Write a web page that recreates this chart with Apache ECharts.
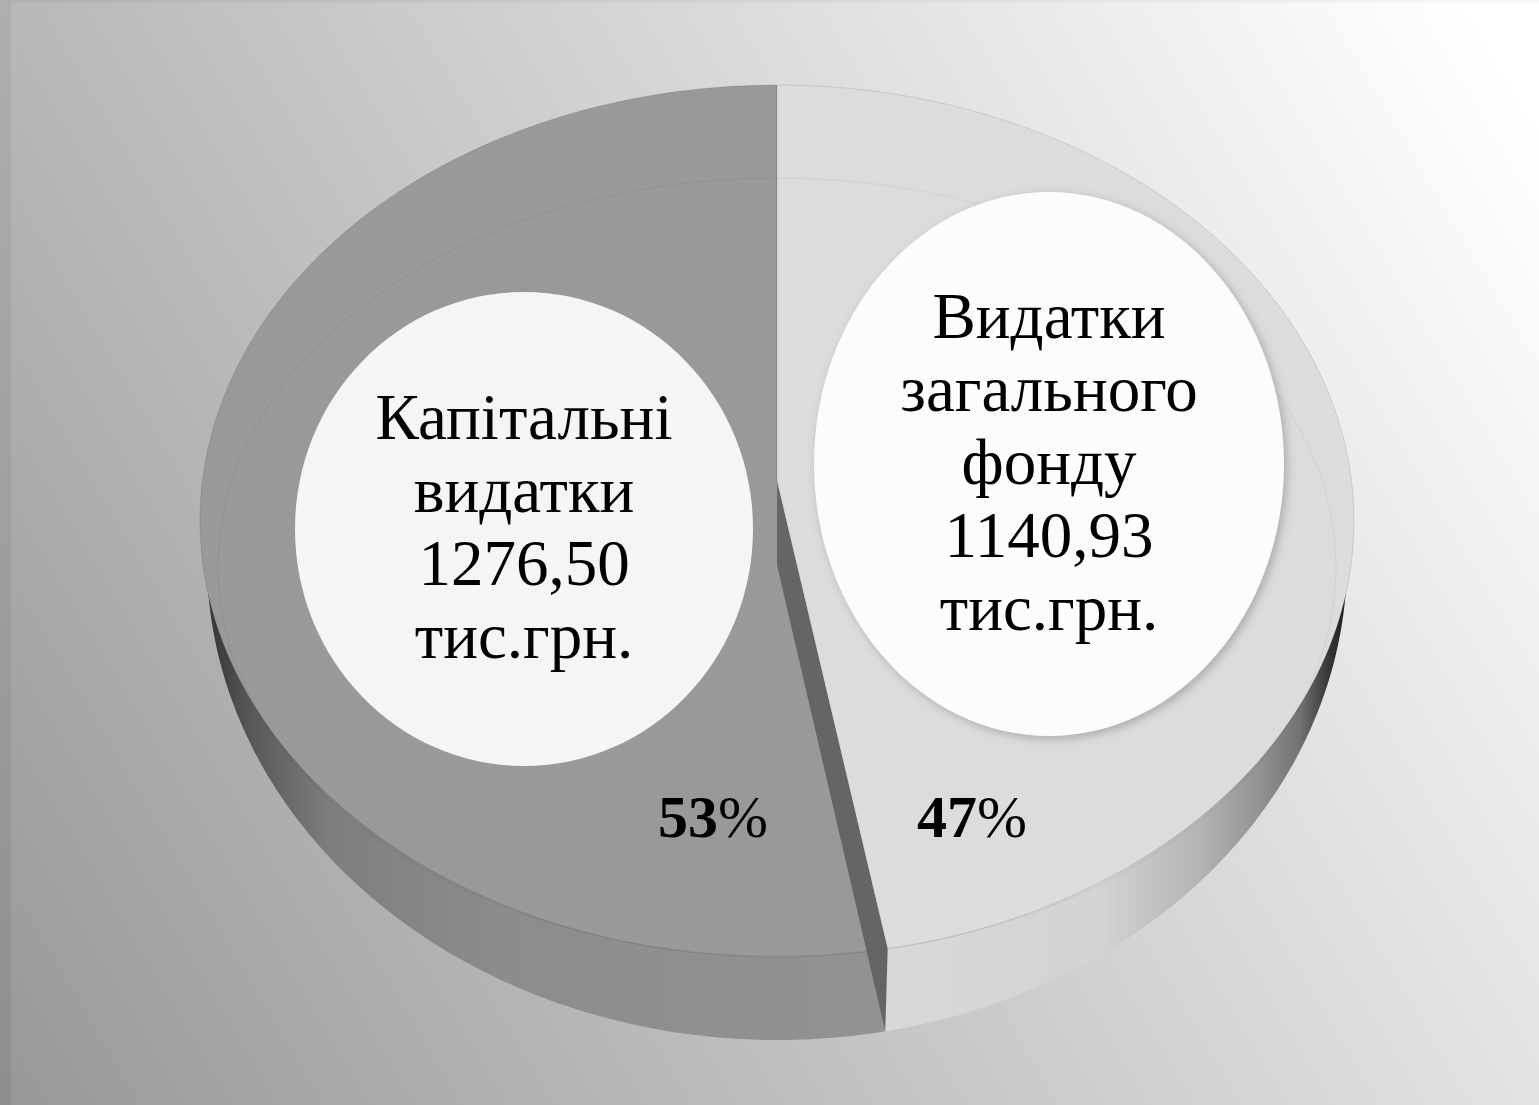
<!DOCTYPE html>
<html>
<head>
<meta charset="utf-8">
<style>
html, body {margin: 0; padding: 0; background: #999;}
#main {width: 1539px; height: 1105px;}
</style>
<script src="https://cdn.jsdelivr.net/npm/echarts@6/dist/echarts.min.js"></script>
</head>
<body>
<div id="main"></div>
<script>
// дані діаграми, за годинниковою стрілкою від верхньої точки
let categories = ['Видатки\nзагального\nфонду', 'Капітальні\nвидатки'];
let values = [1140.93, 1276.50];
let unit = 'тис.грн.';

let total = values.reduce((a, b) => a + b, 0);
let fontName = '"Liberation Serif", serif';

// верхня грань і стінка - кола в перспективі
let topFace = {cx: 777, cy: 521, rx: 577, ry: 436, shift: -40};
let wallFace = {cx: 777, cy: 560, rx: 570, ry: 480, shift: -39};
let apexBottom = {x: 777, y: 565};

// положення підписів для кожного сектора
let bubbles = [
    {cx: 1049, cy: 464, rx: 235, ry: 272, fill: '#fcfcfc', textY: 467, pctX: 972, shadow: 'rgba(0,0,0,0.22)'},
    {cx: 524, cy: 529, rx: 229, ry: 237, fill: '#f5f5f5', textY: 531, pctX: 713, shadow: 'rgba(0,0,0,0)'}
];

let startAngle = (i) => values.slice(0, i).reduce((a, b) => a + b, 0) / total * 360;

let project = (f, deg) => {  // кут на колі -> точка на еліпсі
    let t = deg * Math.PI / 180;
    let u = Math.sin(t), v = -Math.cos(t);
    let k = f.shift / f.ry;
    let w = 1 + k * v;
    return [f.cx + f.rx * Math.sqrt(1 - k * k) * u / w, f.cy + (f.ry * v + f.shift) / w];
};

let arcPoints = (f, from, to) => {
    let pts = [];
    let n = Math.max(2, Math.ceil(Math.abs(to - from)));
    for (let i = 0; i <= n; i++) {
        pts.push(project(f, from + (to - from) * i / n));
    }
    return pts;
};

let hGradient = (x, x2, stops) => ({
    type: 'linear', x: x, y: 0, x2: x2, y2: 0, global: true,
    colorStops: stops.map(s => ({offset: (s[0] - x) / (x2 - x), color: s[1]}))
});

let bgGradient = (from, to) => ({
    type: 'linear', x: 12, y: 1105, x2: 1570, y2: 182, global: true,
    colorStops: [{offset: 0, color: from}, {offset: 1, color: to}]
});

let wallFills = [
    hGradient(885, 1354, [[885, '#d8d8d8'], [1100, '#d3d3d3'], [1200, '#b4b4b4'], [1260, '#929292'], [1300, '#727272'], [1327, '#3a3a3a'], [1354, '#111111']]),
    hGradient(200, 885, [[200, '#2e2e2e'], [250, '#585858'], [330, '#7e7e7e'], [500, '#8c8c8c'], [885, '#929292']])
];
let topFills = ['#dcdcdc', '#999999'];

let renderWall = (params, api) => {
    let i = params.dataIndex;
    let from = Math.max(startAngle(i), 90);
    let to = Math.min(startAngle(i) + api.value(1) / total * 360, 270);
    let pts = arcPoints(wallFace, from, to);
    pts.push([topFace.cx, topFace.cy]);
    return {
        type: 'polygon',
        shape: {points: pts},
        style: {fill: wallFills[i]}
    };
};

let renderTop = (params, api) => {
    let i = params.dataIndex;
    let from = startAngle(i);
    let to = from + api.value(1) / total * 360;
    let apex = [topFace.cx, topFace.cy + topFace.shift];
    let pts = arcPoints(topFace, from, to);
    pts.push(apex);
    let children = [{
        type: 'polygon',
        z2: i == 0 ? 3 : 1,
        shape: {points: pts},
        style: {fill: topFills[i], stroke: 'rgba(0,0,0,0.1)', lineWidth: 1}
    }];
    if (i == 0) {  // зріз сектора
        let outer = project(topFace, to);
        let outerWall = project(wallFace, to);
        children.push({
            type: 'polygon',
            z2: 2,
            shape: {points: [apex, outer, outerWall, [apexBottom.x, apexBottom.y]]},
            style: {fill: '#656565'}
        });
    }
    return {type: 'group', children: children};
};

let renderBubble = (params, api) => {
    let i = params.dataIndex;
    let b = bubbles[i];
    let val = api.value(1).toFixed(2).replace('.', ',');
    let pct = Math.round(api.value(1) / total * 100);
    return {
        type: 'group',
        children: [{
            type: 'ellipse',
            shape: {cx: b.cx, cy: b.cy, rx: b.rx, ry: b.ry},
            style: {fill: b.fill, shadowColor: b.shadow, shadowBlur: 10, shadowOffsetX: 3, shadowOffsetY: 3}
        }, {
            type: 'text',
            x: b.cx,
            y: b.textY,
            z2: 5,
            style: {
                text: categories[i] + '\n' + val + '\n' + unit,
                font: '65px ' + fontName,
                lineHeight: 73,
                fill: '#000',
                align: 'center',
                verticalAlign: 'middle'
            }
        }, {
            type: 'text',
            x: b.pctX,
            y: 821,
            z2: 5,
            style: {
                text: '{b|' + pct + '}{r|%}',
                fill: '#000',
                align: 'center',
                verticalAlign: 'middle',
                rich: {
                    b: {font: 'bold 60px ' + fontName, fill: '#000'},
                    r: {font: '60px ' + fontName, fill: '#000'}
                }
            }
        }]
    };
};

let seriesData = values.map((v, i) => [i, v]);

let myChart = echarts.init(document.getElementById('main'));
myChart.setOption({
    animation: false,
    graphic: [{
        type: 'rect',
        z: -2,
        shape: {x: 0, y: 0, width: 1539, height: 1105},
        style: {fill: bgGradient('#8e8e8e', '#f8f8f8')}
    }, {
        type: 'rect',
        z: -1,
        shape: {x: 11, y: 3, width: 1528, height: 1102},
        style: {fill: bgGradient('#989898', '#ffffff')}
    }],
    series: [
        {type: 'custom', coordinateSystem: 'none', silent: true, z: 1, data: seriesData, renderItem: renderWall},
        {type: 'custom', coordinateSystem: 'none', silent: true, z: 2, data: seriesData, renderItem: renderTop},
        {
            type: 'custom', coordinateSystem: 'none', silent: true, z: 3, data: [0],
            renderItem: () => ({
                type: 'ellipse',
                shape: {cx: topFace.cx, cy: 567, rx: 559, ry: 389},
                style: {fill: 'none', stroke: 'rgba(0,0,0,0.035)', lineWidth: 1.5}
            })
        },
        {type: 'custom', coordinateSystem: 'none', silent: true, z: 4, data: seriesData, renderItem: renderBubble}
    ]
});
</script>
</body>
</html>
